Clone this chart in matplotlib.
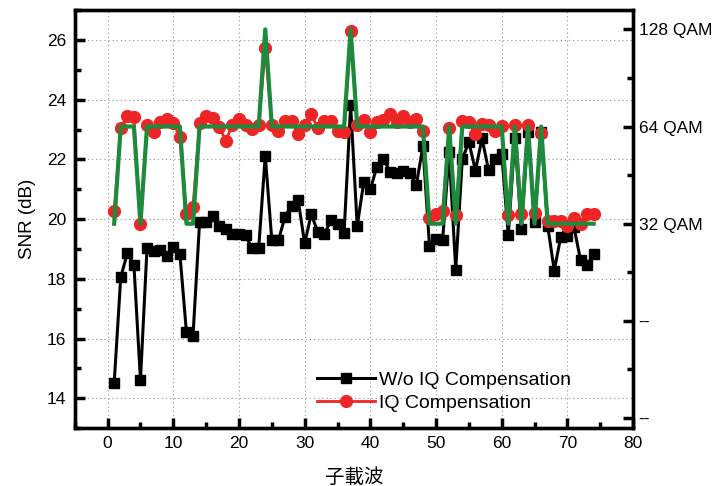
import matplotlib
matplotlib.use("Agg")
import matplotlib.pyplot as plt
from matplotlib.ticker import MultipleLocator

plt.rcParams['font.family'] = ['Liberation Sans', 'Noto Sans CJK TC', 'DejaVu Sans']

subcarrier = list(range(1, 75))

snr_wo_iq = [14.52, 18.06, 18.86, 18.48, 14.61, 19.04, 18.93, 18.96, 18.76, 19.07,
             18.84, 16.22, 16.10, 19.89, 19.89, 20.11, 19.77, 19.66, 19.49, 19.49,
             19.46, 19.02, 19.02, 22.13, 19.29, 19.29, 20.08, 20.45, 20.65, 19.19,
             20.17, 19.57, 19.49, 19.97, 19.85, 19.53, 23.81, 19.77, 21.25, 21.00,
             21.76, 22.03, 21.58, 21.54, 21.60, 21.54, 21.14, 22.45, 19.11, 19.35,
             19.30, 22.24, 18.31, 22.02, 22.58, 21.63, 22.71, 21.64, 22.01, 22.20,
             19.46, 22.72, 19.67, 22.92, 19.90, 22.92, 19.78, 18.28, 19.42, 19.45,
             19.74, 18.63, 18.48, 18.82]

snr_iq = [20.26, 23.06, 23.44, 23.42, 19.85, 23.14, 22.92, 23.25, 23.37, 23.22,
          22.75, 20.19, 20.41, 23.22, 23.44, 23.40, 23.08, 22.63, 23.17, 23.34,
          23.17, 23.03, 23.14, 25.72, 23.14, 22.95, 23.29, 23.29, 22.84, 23.17,
          23.51, 23.06, 23.30, 23.30, 22.97, 22.91, 26.32, 23.14, 23.33, 22.92,
          23.25, 23.33, 23.54, 23.26, 23.44, 23.25, 23.37, 22.94, 20.05, 20.17,
          20.26, 23.05, 20.14, 23.29, 23.25, 22.84, 23.20, 23.14, 22.95, 23.11,
          20.14, 23.17, 20.19, 23.17, 20.22, 22.88, 19.94, 19.94, 19.94, 19.77,
          20.03, 19.85, 20.17, 20.19]

# modulation level per subcarrier (3 = 32 QAM, 4 = 64 QAM, 5 = 128 QAM)
qam_level = [3, 4, 4, 4, 3, 4, 4, 4, 4, 4,
             4, 3, 3, 4, 4, 4, 4, 4, 4, 4,
             4, 4, 4, 5, 4, 4, 4, 4, 4, 4,
             4, 4, 4, 4, 4, 4, 5, 4, 4, 4,
             4, 4, 4, 4, 4, 4, 4, 4, 3, 3,
             3, 4, 3, 4, 4, 4, 4, 4, 4, 4,
             3, 4, 3, 4, 3, 4, 3, 3, 3, 3,
             3, 3, 3, 3]

qam_ticks = [1, 2, 3, 4, 5]
qam_labels = ['--', '--', '32 QAM', '64 QAM', '128 QAM']

fig = plt.figure(figsize=(7.26, 4.86), dpi=100)
ax = fig.add_axes([0.103, 0.119, 0.769, 0.860])

ax.plot(subcarrier, snr_wo_iq, color='black', lw=2.2, marker='s', ms=7,
        label='W/o IQ Compensation', zorder=3)
ax.plot(subcarrier, snr_iq, color='#ee2524', lw=2.0, marker='o', ms=8.5,
        label='IQ Compensation', zorder=4)

ax.set_xlim(-5, 80)
ax.set_ylim(13, 27)
ax.xaxis.set_major_locator(MultipleLocator(10))
ax.xaxis.set_minor_locator(MultipleLocator(5))
ax.yaxis.set_minor_locator(MultipleLocator(1))
ax.set_yticks([14, 16, 18, 20, 22, 24, 26])
ax.grid(True, which='major', color='#a0a0a0', ls=(0, (1.2, 2.5)), lw=0.8)
ax.tick_params(which='major', direction='in', length=7, width=2.5, labelsize=12.5,
               top=False, right=False, pad=6)
ax.tick_params(which='minor', direction='in', length=4, width=2.5,
               top=False, right=False)
for s in ax.spines.values():
    s.set_linewidth(2.4)

ax.set_ylabel('SNR (dB)', fontsize=13.5, labelpad=8)
ax.set_xlabel('子載波', fontsize=14, labelpad=12)

ax2 = ax.twinx()
ax2.plot(subcarrier, qam_level, color='#1e8a3c', lw=3, zorder=5)
ax2.set_ylim(0.896, 5.197)
ax2.set_yticks(qam_ticks)
ax2.set_yticklabels(qam_labels)
ax2.yaxis.set_minor_locator(MultipleLocator(0.5))
ax2.tick_params(which='major', direction='in', length=7, width=2.5, labelsize=12.5, pad=4)
ax2.tick_params(which='minor', direction='in', length=4, width=2.5)
for s in ax2.spines.values():
    s.set_linewidth(2.4)

leg = ax.legend(loc='lower left', bbox_to_anchor=(0.42, 0.02), frameon=False,
                fontsize=14, handlelength=3.0, handletextpad=0.2,
                labelspacing=0.3, borderaxespad=0)

fig.savefig('out.png', dpi=100)
